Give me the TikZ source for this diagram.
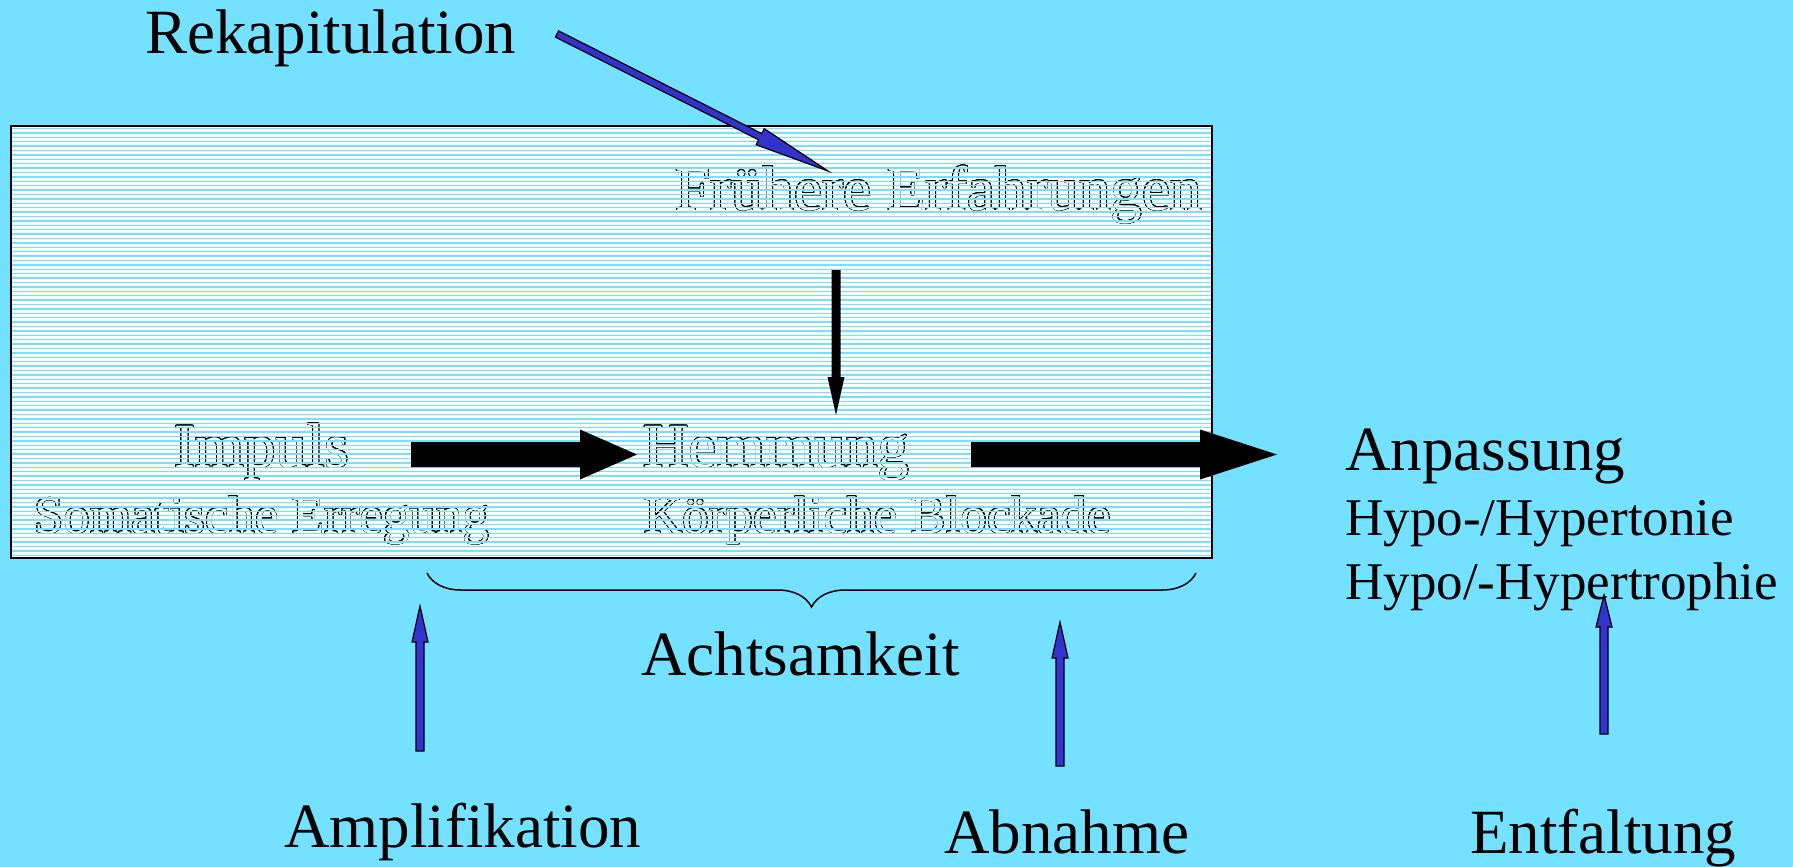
\documentclass[tikz,border=0pt]{standalone}
\usepackage{fontspec}
\setmainfont{Liberation Serif}
\usepackage{contour}
\usetikzlibrary{calc,decorations.pathreplacing}
\definecolor{mycyan}{RGB}{115, 225, 255}
\definecolor{myblue}{RGB}{51, 51, 204}
\contourlength{0.35pt}

% hollow text inside the striped box
\newcommand{\hollow}[1]{\contour{black}{\textcolor{white}{#1}}}
% block arrow: [style]{from}{to}{half shaft}{half head}{head length}
\newcommand{\blockarrow}[6][]{%
  \coordinate (ba-base) at ($(#3)!#6!(#2)$);
  \path[#1] ($(#2)!#4!90:(#3)$) -- ($(ba-base)!#4!-90:(#2)$) -- ($(ba-base)!#5!-90:(#2)$)
    -- (#3) -- ($(ba-base)!#5!90:(#2)$) -- ($(ba-base)!#4!90:(#2)$) -- ($(#2)!#4!-90:(#3)$) -- cycle;}

\begin{document}
\begin{tikzpicture}[x=0.5pt,y=-0.5pt]

\tikzstyle{big} = [anchor=base west, inner sep=0, font=\fontsize{31.5}{36}\selectfont]
\tikzstyle{small} = [anchor=base west, inner sep=0, font=\fontsize{26.5}{30}\selectfont]
\tikzstyle{stripe} = [draw=mycyan, line width=0.7pt]
\tikzstyle{blue_arrow} = [draw=black, line width=0.6pt, fill=myblue]
\tikzstyle{black_arrow} = [fill=black]

\useasboundingbox[fill=mycyan] (0,0) rectangle (1793,867);

% striped box
\fill[white] (11,126) rectangle (1212,558);

\node[big] (frueh) at (675,210) {\hollow{Frühere Erfahrungen}};
\node[big] (impuls) at (174,467) {\hollow{Impuls}};
\node[big] (hemmung) at (643,467) {\hollow{Hemmung}};
\node[small] (somat) at (34,533) {\hollow{Somatische Erregung}};
\node[small] (koerper) at (644,533) {\hollow{Körperliche Blockade}};

\foreach \i in {0,...,97}
  \draw[stripe] (11,128.5+4.4*\i) -- (1212,128.5+4.4*\i);
\draw[line width=0.75pt] (11,126) rectangle (1212,558);

% outside labels
\node[big] (rekap) at (145,53) {Rekapitulation};
\node[big] (anpass) at (1345,470) {Anpassung};
\node[small] (tonie) at (1345,535) {Hypo-/Hypertonie};
\node[small] (trophie) at (1345,599) {Hypo/-Hypertrophie};
\node[big] (acht) at (641,675) {Achtsamkeit};
\node[big] (ampl) at (284,847) {Amplifikation};
\node[big] (abn) at (944,853) {Abnahme};
\node[big] (entf) at (1470,853) {Entfaltung};

% arrow ends
\coordinate (rekap-from) at (557,34);
\coordinate (rekap-to) at (828,171);
\coordinate (frueh-from) at (836,270);
\coordinate (frueh-to) at (836,415);
\coordinate (impuls-from) at (411,454.5);
\coordinate (impuls-to) at (637,454.5);
\coordinate (hemmung-from) at (971,454.5);
\coordinate (hemmung-to) at (1277,454.5);
\coordinate (ampl-from) at (420,751);
\coordinate (ampl-to) at (420,606);
\coordinate (abn-from) at (1060,766);
\coordinate (abn-to) at (1060,622);
\coordinate (entf-from) at (1604,734);
\coordinate (entf-to) at (1604,595);
\coordinate (brace-l) at (427,573);
\coordinate (brace-r) at (1196,573);

\blockarrow[blue_arrow]{rekap-from}{rekap-to}{1.75pt}{4.5pt}{38pt}
\blockarrow[black_arrow]{frueh-from}{frueh-to}{2.25pt}{4.25pt}{19pt}
\blockarrow[black_arrow]{impuls-from}{impuls-to}{6.25pt}{12.5pt}{28.5pt}
\blockarrow[black_arrow]{hemmung-from}{hemmung-to}{6.25pt}{12.5pt}{38.5pt}
\blockarrow[blue_arrow]{ampl-from}{ampl-to}{2pt}{4pt}{18pt}
\blockarrow[blue_arrow]{abn-from}{abn-to}{2pt}{4pt}{18pt}
\blockarrow[blue_arrow]{entf-from}{entf-to}{2pt}{4pt}{16pt}

\draw[line width=0.75pt, decorate, decoration={brace, amplitude=17pt, mirror}] (brace-l) -- (brace-r);

\end{tikzpicture}
\end{document}
